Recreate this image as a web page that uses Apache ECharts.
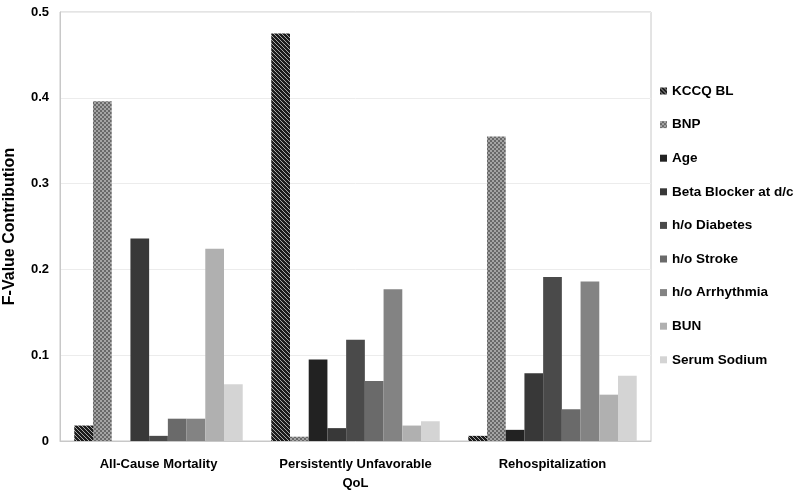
<!DOCTYPE html>
<html>
<head>
<meta charset="utf-8">
<script src="https://cdn.jsdelivr.net/npm/echarts@6/dist/echarts.min.js"></script>
<style>html,body{margin:0;padding:0;background:#fff}#c{width:800px;height:491px}</style>
</head>
<body>
<div id="c"></div>
<script>
var categories = ['All-Cause Mortality', 'Persistently Unfavorable\nQoL', 'Rehospitalization'];
var seriesNames = ['KCCQ BL', 'BNP', 'Age', 'Beta Blocker at d/c', 'h/o Diabetes', 'h/o Stroke', 'h/o Arrhythmia', 'BUN', 'Serum Sodium'];
var kccqBL = [0.018, 0.475, 0.006];
var bnp = [0.396, 0.005, 0.355];
var age = [0, 0.095, 0.013];
var betaBlocker = [0.236, 0.015, 0.079];
var diabetes = [0.006, 0.118, 0.191];
var stroke = [0.026, 0.070, 0.037];
var arrhythmia = [0.026, 0.177, 0.186];
var bun = [0.224, 0.018, 0.054];
var serumSodium = [0.066, 0.023, 0.076];
var yTicks = [0, 0.1, 0.2, 0.3, 0.4, 0.5];

function stripePattern() {
  var c = document.createElement('canvas');
  c.width = 4; c.height = 4;
  var g = c.getContext('2d');
  g.fillStyle = '#1c1c1c'; g.fillRect(0, 0, 4, 4);
  g.fillStyle = '#a8a8a8';
  for (var i = 0; i < 4; i++) { g.fillRect(i, i, 1, 1); }
  return { image: c, repeat: 'repeat' };
}
function checkerPattern() {
  var c = document.createElement('canvas');
  c.width = 4; c.height = 4;
  var g = c.getContext('2d');
  g.fillStyle = '#686868'; g.fillRect(0, 0, 4, 4);
  g.fillStyle = '#a4a4a4'; g.fillRect(0, 0, 2, 2); g.fillRect(2, 2, 2, 2);
  return { image: c, repeat: 'repeat' };
}

var colors = [stripePattern(), checkerPattern(), '#222222', '#383838', '#4a4a4a', '#6a6a6a', '#838383', '#b0b0b0', '#d4d4d4'];
var dataSets = [kccqBL, bnp, age, betaBlocker, diabetes, stroke, arrhythmia, bun, serumSodium];

var series = seriesNames.map(function (n, i) {
  return {
    name: n, type: 'bar', data: dataSets[i],
    itemStyle: { color: colors[i] },
    barGap: '0%', barCategoryGap: '14.5%'
  };
});

var chart = echarts.init(document.getElementById('c'), null, { renderer: 'canvas' });
chart.setOption({
  animation: false,
  backgroundColor: '#ffffff',
  grid: { left: 60, right: 149, top: 12, bottom: 50, show: true, borderColor: '#c8c8c8', borderWidth: 1, containLabel: false, outerBoundsMode: 'none' },
  legend: {
    orient: 'vertical', left: 655, top: 79,
    itemWidth: 7, itemHeight: 7, itemGap: 19.6,
    icon: 'rect',
    textStyle: { fontFamily: 'Liberation Sans', fontWeight: 'bold', fontSize: 13.5, color: '#000', lineHeight: 14 },
    data: seriesNames
  },
  xAxis: {
    type: 'category', data: categories,
    axisLine: { lineStyle: { color: '#c8c8c8' } },
    axisTick: { show: false },
    axisLabel: { fontFamily: 'Liberation Sans', fontWeight: 'bold', fontSize: 13, color: '#000', margin: 14, lineHeight: 19, interval: 0 }
  },
  yAxis: {
    type: 'value', min: 0, max: 0.5, interval: 0.1,
    name: 'F-Value Contribution', nameLocation: 'middle', nameGap: 42, nameRotate: 90,
    nameTextStyle: { fontFamily: 'Liberation Sans', fontWeight: 'bold', fontSize: 16, color: '#000' },
    axisLine: { show: true, lineStyle: { color: '#c8c8c8' } },
    axisTick: { show: false },
    splitLine: { lineStyle: { color: '#ececec' } },
    axisLabel: {
      fontFamily: 'Liberation Sans', fontWeight: 'bold', fontSize: 13, color: '#000', margin: 11,
      formatter: function (v) { var t = yTicks.filter(function (x) { return Math.abs(x - v) < 1e-9; }); return t.length ? String(t[0]) : ''; }
    }
  },
  series: series
});
</script>
</body>
</html>
